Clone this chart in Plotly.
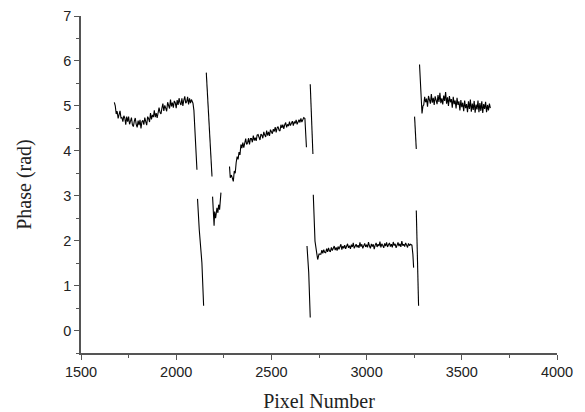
import plotly.graph_objects as go

# ---------------- data ----------------
# segment A: left noisy arc
A_x = [1675] + list(range(1680, 2081, 5)) + [2088, 2093, 2098, 2103, 2109]
A_y = [5.08,
       5.00, 4.82, 4.88, 4.72, 4.85, 4.89, 4.73, 4.74, 4.65, 4.78,
       4.73, 4.58, 4.76, 4.65, 4.76, 4.59, 4.66, 4.74, 4.58, 4.54,
       4.66, 4.73, 4.59, 4.52, 4.67, 4.57, 4.69, 4.50, 4.65, 4.68,
       4.58, 4.74, 4.65, 4.57, 4.76, 4.72, 4.64, 4.84, 4.70, 4.80,
       4.75, 4.90, 4.75, 4.84, 4.73, 4.92, 4.96, 4.85, 4.82, 4.95,
       5.05, 4.89, 5.01, 4.95, 4.88, 5.08, 5.01, 4.94, 5.14, 4.99,
       5.07, 4.96, 5.11, 5.07, 4.95, 5.13, 5.02, 5.17, 5.07, 5.02,
       5.17, 5.00, 5.13, 5.21, 5.06, 5.09, 5.20, 5.03, 5.17, 5.06, 5.14,
       5.06, 4.90, 4.55, 4.10, 3.58]

B_x = [2112, 2121, 2135, 2144]
B_y = [2.93, 2.25, 1.51, 0.55]

C_x = [2158, 2166, 2176, 2188]
C_y = [5.74, 5.15, 4.35, 3.43]

D_x = [2191, 2199, 2202, 2207, 2214, 2219, 2223, 2228, 2235]
D_y = [2.98, 2.33, 2.65, 2.50, 2.73, 2.62, 2.80, 2.69, 3.07]

E_x = [2280, 2284, 2290, 2296] + list(range(2300, 2671, 5)) + [2676, 2680, 2684]
E_y = [3.65, 3.40, 3.46, 3.32,
       3.32, 3.55, 3.50, 3.74, 3.87, 3.81, 3.97, 3.91, 4.14, 4.06,
       4.18, 4.07, 4.17, 4.27, 4.14, 4.18, 4.28, 4.14, 4.27, 4.27,
       4.19, 4.34, 4.23, 4.29, 4.22, 4.35, 4.36, 4.28, 4.24, 4.37,
       4.35, 4.28, 4.42, 4.35, 4.31, 4.45, 4.34, 4.42, 4.33, 4.47,
       4.43, 4.38, 4.48, 4.43, 4.53, 4.41, 4.51, 4.54, 4.46, 4.44,
       4.58, 4.51, 4.58, 4.49, 4.58, 4.63, 4.52, 4.59, 4.55, 4.65,
       4.56, 4.63, 4.66, 4.56, 4.65, 4.61, 4.69, 4.59, 4.66, 4.69,
       4.63, 4.72, 4.64, 4.71, 4.74,
       4.72, 4.40, 4.08]

F_x = [2704, 2711, 2718]
F_y = [5.48, 4.70, 3.93]

G_x = [2687, 2696, 2704]
G_y = [1.88, 1.29, 0.29]

H_x = [2720, 2729, 2743, 2750] + list(range(2760, 3231, 5)) + [3238, 3243, 3247]
H_y = [3.02, 1.99, 1.58, 1.70,
       1.70, 1.79, 1.72, 1.80, 1.74, 1.73, 1.82, 1.75, 1.84, 1.77,
       1.76, 1.85, 1.78, 1.83, 1.88, 1.79, 1.85, 1.78, 1.87, 1.81,
       1.86, 1.92, 1.80, 1.88, 1.83, 1.90, 1.82, 1.87, 1.93, 1.84,
       1.89, 1.82, 1.91, 1.86, 1.95, 1.83, 1.88, 1.92, 1.85, 1.90,
       1.84, 1.96, 1.87, 1.92, 1.83, 1.89, 1.94, 1.86, 1.91, 1.85,
       1.97, 1.88, 1.83, 1.93, 1.87, 1.92, 1.81, 1.90, 1.95, 1.86,
       1.92, 1.88, 1.98, 1.85, 1.93, 1.89, 1.84, 1.94, 1.88, 1.96,
       1.86, 1.91, 1.95, 1.87, 1.92, 1.85, 1.97, 1.89, 1.93, 1.84,
       1.91, 1.96, 1.88, 1.93, 1.86, 1.99, 1.89, 1.92, 1.87, 1.95,
       1.90, 1.85, 1.94, 1.89, 1.92,
       1.90, 1.70, 1.40]

I_x = [3252, 3256, 3261]
I_y = [4.76, 4.39, 4.04]

J_x = [3261, 3268, 3273]
J_y = [2.67, 1.58, 0.55]

K_x = [3278, 3291, 3296] + list(range(3300, 3651, 5))
K_y = [5.92, 4.83, 5.00,
       5.02, 5.20, 5.08, 5.16, 4.98, 5.22, 5.10, 5.05, 5.26, 5.07,
       5.18, 5.02, 5.21, 5.12, 5.04, 5.24, 5.09, 5.29, 5.06, 5.17,
       5.03, 5.23, 5.11, 5.31, 5.05, 5.19, 5.00, 5.22, 5.08, 5.15,
       4.96, 5.20, 5.04, 5.12, 4.94, 5.18, 5.02, 5.10, 4.90, 5.13,
       4.97, 5.07, 4.88, 5.12, 4.95, 5.04, 4.86, 5.10, 4.93, 5.14,
       4.87, 5.05, 4.91, 5.11, 4.85, 5.03, 4.92, 5.12, 4.86, 5.06,
       4.89, 5.10, 4.84, 5.04, 4.93, 5.09, 4.86, 5.02, 4.90, 5.05,
       4.95]

segments = [(A_x, A_y), (B_x, B_y), (C_x, C_y), (D_x, D_y), (E_x, E_y),
            (F_x, F_y), (G_x, G_y), (H_x, H_y), (I_x, I_y), (J_x, J_y),
            (K_x, K_y)]

x_ticks = [1500, 2000, 2500, 3000, 3500, 4000]
y_ticks = [0, 1, 2, 3, 4, 5, 6, 7]

# ---------------- figure ----------------
xs, ys = [], []
for sx, sy in segments:
    n = min(len(sx), len(sy))
    xs += list(sx[:n]) + [None]
    ys += list(sy[:n]) + [None]

fig = go.Figure(go.Scatter(x=xs, y=ys, mode="lines", connectgaps=False,
                           line=dict(color="black", width=1.1), showlegend=False))

serif = "Liberation Serif, Times New Roman, serif"
sans = "Liberation Sans, Arial, sans-serif"

fig.update_layout(
    width=585, height=412,
    margin=dict(l=81, r=28, t=16, b=59),
    paper_bgcolor="white", plot_bgcolor="white",
    xaxis=dict(range=[1500, 4000], tickvals=x_ticks, ticks="outside", ticklen=5,
               tickwidth=1.2, tickcolor="#555", showline=True, linecolor="#555",
               linewidth=1.5, showgrid=False, zeroline=False, automargin=False,
               minor=dict(dtick=250, ticks="outside", ticklen=3, tickcolor="#555", showgrid=False),
               tickfont=dict(family=sans, size=14.5, color="#222"),
               title=dict(text="Pixel Number", font=dict(family=serif, size=20, color="#222"),
                          standoff=15)),
    yaxis=dict(range=[-0.5, 7], tickvals=y_ticks, ticks="outside", ticklen=5,
               tickwidth=1.2, tickcolor="#555", showline=True, linecolor="#555",
               linewidth=1.5, showgrid=False, zeroline=False, automargin=False,
               minor=dict(dtick=0.5, ticks="outside", ticklen=3, tickcolor="#555", showgrid=False),
               tickfont=dict(family=sans, size=14.5, color="#222"),
               title=dict(text="Phase (rad)", font=dict(family=serif, size=20, color="#222"),
                          standoff=26)),
)

fig.write_html("out.html", config={"displayModeBar": False},
               post_script="document.body.style.margin='0';document.body.style.overflow='hidden';")
